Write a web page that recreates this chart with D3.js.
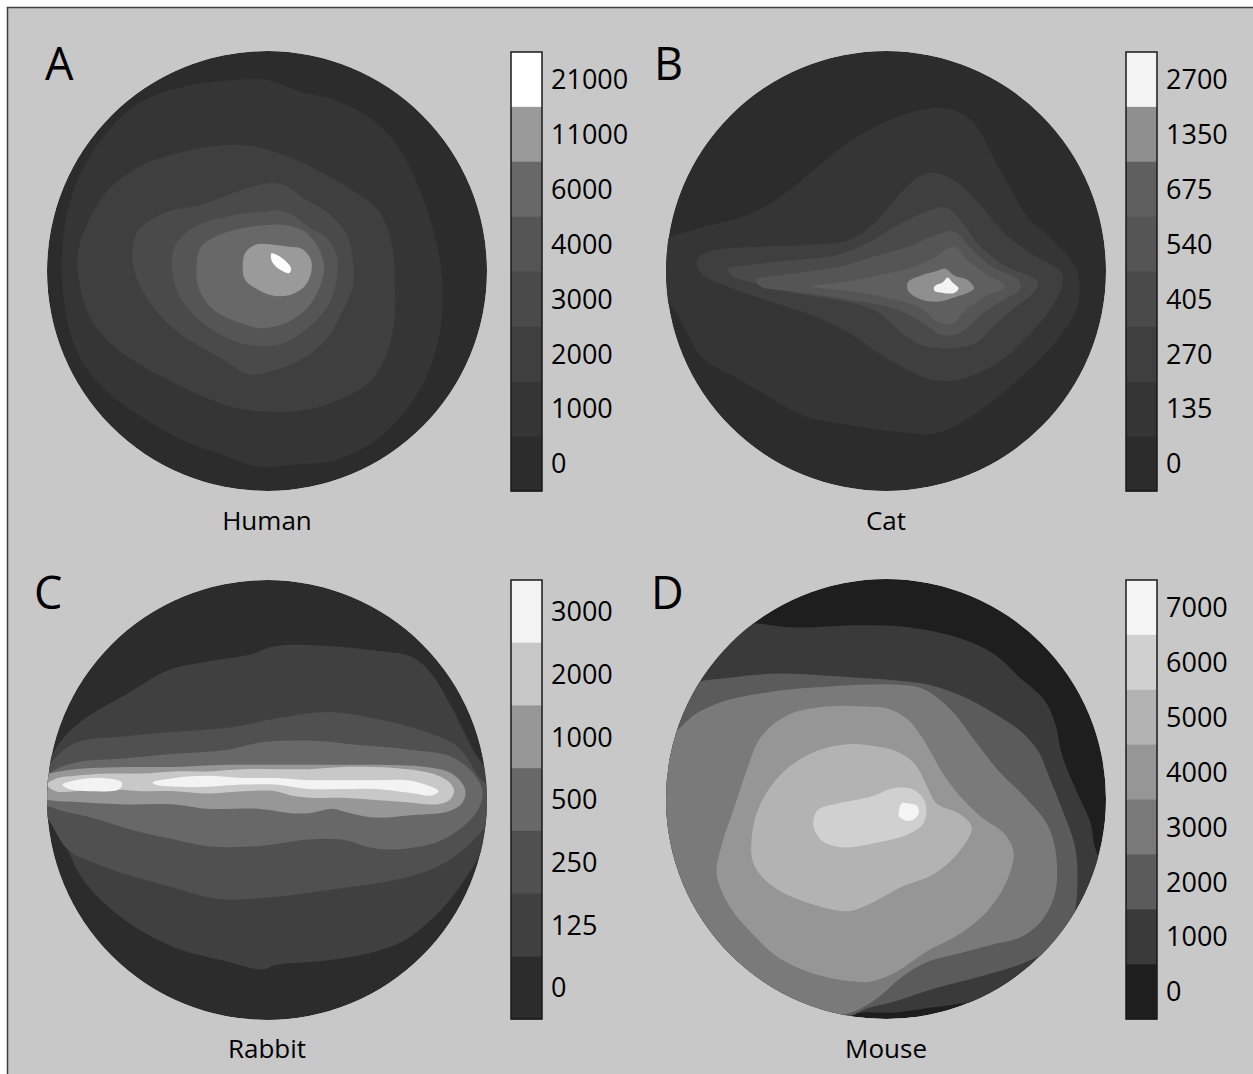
<!DOCTYPE html>
<html>
<head>
<meta charset="utf-8">
<script src="https://cdn.jsdelivr.net/npm/d3@7"></script>
<style>
  html, body { margin: 0; padding: 0; background: #ffffff; }
  svg { display: block; }
  text { font-family: "Open Sans", "Noto Sans", sans-serif; fill: #000; }
</style>
</head>
<body>
<svg id="fig" width="1253" height="1074"></svg>
<script>
// ---------------------------------------------------------------
// Colour-scale tick labels (cell density, cells/mm^2), low to high
// ---------------------------------------------------------------
const humanTicks  = [0, 1000, 2000, 3000, 4000, 6000, 11000, 21000];
const catTicks    = [0, 135, 270, 405, 540, 675, 1350, 2700];
const rabbitTicks = [0, 125, 250, 500, 1000, 2000, 3000];
const mouseTicks  = [0, 1000, 2000, 3000, 4000, 5000, 6000, 7000];

// ---------------------------------------------------------------
// Iso-density contours on the flattened retina.
// Coordinates are % of retinal radius (x right, y down, centre 0,0).
// Entry i is the outline of the region above tick i+1; a level may
// consist of several separate islands.
// ---------------------------------------------------------------
const humanContours = [
  [[[-11,-87],[-37,-84],[-57,-77],[-72,-64],[-83,-48],[-90,-30],[-93,-11],[-93,7],[-90,26],[-83,43],[-69,58],[-51,70],[-36,78],[-19,84],[-4,89],[13,88],[31,86],[48,78],[61,66],[72,49],[78,31],[80,11],[78,-8],[73,-27],[66,-45],[57,-60],[43,-72],[30,-78],[17,-81],[-1,-87]]],
  [[[-22,-57],[-39,-54],[-57,-48],[-72,-37],[-81,-23],[-86,-8],[-85,7],[-80,22],[-70,34],[-57,43],[-42,51],[-27,58],[-11,63],[4,64],[19,63],[34,58],[46,51],[54,39],[58,22],[58,4],[57,-11],[51,-27],[40,-36],[30,-42],[19,-48],[7,-53],[-8,-57]]],
  [[[1,-40],[-14,-36],[-30,-30],[-45,-27],[-58,-19],[-61,-11],[-60,1],[-54,13],[-46,23],[-36,31],[-22,39],[-8,47],[4,45],[16,40],[27,31],[34,19],[39,7],[39,-5],[36,-17],[27,-27],[17,-33],[8,-39]]],
  [[[-2,-27],[-17,-25],[-33,-20],[-42,-11],[-43,1],[-39,13],[-30,23],[-17,31],[-5,34],[7,33],[17,27],[27,17],[31,7],[32,-5],[28,-14],[19,-20],[8,-27]]],
  [[[-8,-20],[-20,-17],[-30,-11],[-32,-2],[-31,8],[-25,17],[-14,23],[-2,26],[10,23],[19,16],[24,7],[26,-2],[23,-11],[17,-18],[7,-21]]],
  [[[-5,-12],[-10,-8],[-11,-2],[-10,4],[-5,8],[2,11],[10,11],[17,7],[20,1],[20,-5],[16,-10],[10,-11],[2,-12]]],
  [[[2,-8],[5,-7],[9,-4],[11,-1],[10,1],[7,0],[4,-2],[2,-5]]]
];

const catContours = [
  [[[-104,-11],[-101,-14],[-83,-20],[-64,-25],[-49,-33],[-34,-45],[-19,-57],[-4,-66],[11,-72],[27,-74],[37,-70],[43,-63],[49,-51],[57,-37],[64,-25],[77,-13],[86,-2],[88,7],[86,19],[78,31],[67,43],[57,52],[46,61],[34,69],[22,74],[4,73],[-17,70],[-37,66],[-52,58],[-67,49],[-83,40],[-90,29],[-96,18],[-101,13],[-104,8]]],
  [[[-86,-5],[-80,-9],[-57,-11],[-34,-12],[-17,-14],[-5,-22],[7,-36],[17,-44],[25,-44],[34,-39],[43,-30],[54,-17],[66,-8],[80,1],[80,7],[75,17],[66,28],[57,37],[43,46],[30,50],[19,49],[10,45],[-4,37],[-17,28],[-34,20],[-52,14],[-72,7],[-83,2]]],
  [[[-72,-1],[-60,-3],[-42,-5],[-23,-7],[-8,-13],[4,-20],[16,-26],[27,-29],[34,-23],[43,-11],[55,-2],[69,5],[67,10],[58,17],[49,25],[42,32],[31,35],[17,34],[7,28],[-5,18],[-23,13],[-42,10],[-58,6],[-70,2]]],
  [[[-59,4],[-49,2],[-34,0],[-17,-3],[-4,-7],[10,-11],[22,-16],[31,-18],[39,-10],[48,-2],[60,4],[61,8],[52,14],[43,20],[34,28],[25,29],[16,23],[4,17],[-11,14],[-30,11],[-45,9],[-57,7]]],
  [[[-34,7],[-19,5],[-4,2],[10,-1],[20,-5],[31,-11],[37,-5],[45,1],[54,7],[46,11],[37,17],[30,24],[23,23],[16,17],[4,13],[-11,10],[-27,8]]],
  [[[10,5],[16,2],[23,0],[27,-1],[31,2],[37,4],[40,8],[37,10],[31,12],[23,14],[16,13],[10,9]]],
  [[[22,7],[26,5],[28,3],[30,5],[33,8],[31,10],[26,10],[22,9]]]
];

const rabbitContours = [
  [[[-105,-2],[-98,-20],[-90,-31],[-80,-39],[-64,-48],[-45,-59],[-27,-63],[-8,-66],[4,-70],[27,-70],[49,-68],[66,-65],[75,-57],[84,-42],[93,-24],[105,-2],[98,22],[90,36],[80,49],[64,63],[49,69],[27,73],[4,75],[-2,77],[-20,73],[-42,67],[-64,55],[-83,37],[-93,18]]],
  [[[-105,-2],[-98,-17],[-87,-26],[-64,-29],[-42,-31],[-17,-33],[4,-37],[27,-40],[49,-37],[72,-31],[87,-24],[96,-11],[105,1],[95,17],[80,29],[64,35],[49,38],[27,41],[4,44],[-22,45],[-42,40],[-60,35],[-75,30],[-90,23],[-98,11]]],
  [[[-104,-5],[-99,-12],[-87,-17],[-64,-19],[-42,-21],[-17,-23],[-4,-26],[19,-27],[42,-25],[64,-23],[83,-20],[93,-13],[98,-4],[95,6],[80,18],[64,22],[49,22],[34,18],[19,18],[-4,21],[-27,21],[-42,18],[-60,14],[-80,8],[-93,5],[-99,3],[-104,1]]],
  [[[-104,-10],[-99,-12],[-87,-14],[-64,-15],[-42,-15],[-19,-16],[4,-16],[27,-16],[49,-16],[72,-15],[84,-12],[90,-5],[89,1],[83,5],[64,7],[49,8],[34,5],[30,4],[19,6],[11,6],[-4,4],[-27,4],[-42,2],[-64,2],[-84,1],[-99,0],[-104,-2]]],
  [[[-100,-7],[-95,-10],[-87,-11],[-72,-12],[-57,-12],[-42,-13],[-27,-13],[-11,-14],[4,-14],[19,-14],[34,-15],[49,-15],[64,-14],[75,-12],[83,-8],[85,-4],[83,0],[77,2],[64,1],[49,0],[34,-1],[19,-1],[11,-2],[4,-4],[-11,-4],[-27,-3],[-42,-4],[-57,-4],[-72,-5],[-87,-4],[-96,-4]]],
  [
    [[-93,-7],[-87,-9],[-75,-10],[-66,-8],[-67,-5],[-80,-4],[-90,-5]],
    [[-52,-8],[-42,-10],[-27,-11],[-11,-10],[4,-10],[19,-9],[34,-9],[49,-9],[64,-9],[72,-7],[78,-4],[75,-2],[67,-3],[49,-5],[34,-5],[19,-5],[11,-6],[4,-7],[-11,-7],[-27,-6],[-42,-6],[-51,-7]]
  ]
];

const mouseContours = [
  [[[-72,-80],[-42,-78],[-11,-79],[11,-78],[34,-73],[49,-66],[61,-55],[72,-45],[77,-34],[80,-20],[86,-5],[93,11],[95,22],[99,31],[110,49],[64,87],[34,93],[19,95],[4,97],[-11,97],[-27,98],[-102,49],[-111,-27],[-87,-72]]],
  [[[-98,-36],[-87,-52],[-72,-55],[-49,-57],[-27,-56],[-11,-55],[4,-54],[19,-52],[34,-47],[49,-39],[61,-31],[69,-22],[75,-8],[81,7],[86,22],[87,39],[85,54],[78,66],[64,74],[49,79],[34,83],[19,87],[4,92],[-8,95],[-20,99],[-102,64],[-110,-11]]],
  [[[-102,-23],[-93,-33],[-86,-39],[-72,-45],[-57,-48],[-42,-50],[-27,-51],[-11,-52],[4,-52],[17,-50],[30,-40],[40,-27],[51,-13],[63,-1],[73,11],[77,23],[77,42],[71,55],[61,63],[49,66],[34,70],[19,74],[7,81],[-2,89],[-11,95],[-20,98],[-57,95],[-110,34]]],
  [[[-10,-42],[-27,-42],[-45,-38],[-57,-28],[-63,-14],[-69,4],[-75,22],[-77,34],[-71,49],[-61,61],[-49,72],[-31,80],[-14,83],[-7,83],[4,79],[19,69],[34,61],[46,51],[55,37],[58,24],[54,16],[43,8],[33,-2],[25,-13],[17,-27],[10,-36],[1,-41]]],
  [[[-16,-25],[-31,-22],[-46,-13],[-57,2],[-61,17],[-60,30],[-51,40],[-36,47],[-17,51],[-8,48],[7,40],[22,34],[34,23],[39,13],[34,7],[23,2],[19,-5],[13,-16],[4,-22],[-5,-24]]],
  [[[-31,5],[-22,2],[-7,-1],[4,-5],[13,-4],[18,2],[17,11],[10,16],[-5,20],[-20,22],[-29,19],[-33,12]]],
  [[[10,2],[14,3],[15,6],[13,9],[10,10],[6,8],[6,5],[7,2]]]
];

// ---------------------------------------------------------------
// Styling and layout
// ---------------------------------------------------------------
const humanGrays  = ["#2c2c2c", "#353535", "#3f3f3f", "#4a4a4a", "#555555", "#686868", "#9a9a9a", "#ffffff"];
const catGrays    = ["#2c2c2c", "#353535", "#3f3f3f", "#4a4a4a", "#555555", "#5f5f5f", "#8f8f8f", "#f3f3f3"];
const rabbitGrays = ["#2c2c2c", "#404040", "#505050", "#686868", "#979797", "#c8c8c8", "#f3f3f3"];
const mouseGrays  = ["#1e1e1e", "#3a3a3a", "#5b5b5b", "#7a7a7a", "#969696", "#b3b3b3", "#d0d0d0", "#f5f5f5"];

const R = 220;  // retina disc radius, px

const panels = [
  { letter: "A", name: "Human",  ticks: humanTicks,  contours: humanContours,  grays: humanGrays,
    cx: 267, cy: 271, letterX: 45,  letterY: 80,  barX: 511, barY0: 52,  barY1: 491, captionY: 530 },
  { letter: "B", name: "Cat",    ticks: catTicks,    contours: catContours,    grays: catGrays,
    cx: 886, cy: 271, letterX: 654, letterY: 80,  barX: 1126, barY0: 52, barY1: 491, captionY: 530 },
  { letter: "C", name: "Rabbit", ticks: rabbitTicks, contours: rabbitContours, grays: rabbitGrays,
    cx: 267, cy: 800, letterX: 34,  letterY: 609, barX: 511, barY0: 580, barY1: 1019, captionY: 1058 },
  { letter: "D", name: "Mouse",  ticks: mouseTicks,  contours: mouseContours,  grays: mouseGrays,
    cx: 886, cy: 799, letterX: 651, letterY: 609, barX: 1126, barY0: 580, barY1: 1019, captionY: 1058 }
];

const svg = d3.select("#fig");

// figure frame
svg.append("rect")
  .attr("x", 7.5).attr("y", 7.5)
  .attr("width", 1260).attr("height", 1080)
  .attr("fill", "#c8c8c8")
  .attr("stroke", "#404040")
  .attr("stroke-width", 1.5);

const defs = svg.append("defs");

panels.forEach((p, pi) => {
  const g = svg.append("g");

  const x = d3.scaleLinear().domain([-100, 100]).range([p.cx - R, p.cx + R]);
  const y = d3.scaleLinear().domain([-100, 100]).range([p.cy - R, p.cy + R]);
  const fill = d3.scaleOrdinal().domain(p.ticks).range(p.grays);

  // retina outline used as clip region
  const clipId = "retina-" + pi;
  defs.append("clipPath").attr("id", clipId)
    .append("circle").attr("cx", x(0)).attr("cy", y(0)).attr("r", R);

  const map = g.append("g").attr("clip-path", `url(#${clipId})`);

  // lowest density band fills the whole disc
  map.append("circle")
    .attr("cx", x(0)).attr("cy", y(0)).attr("r", R)
    .attr("fill", fill(p.ticks[0]));

  const outline = d3.line()
    .x(d => x(d[0]))
    .y(d => y(d[1]))
    .curve(d3.curveCatmullRomClosed.alpha(0.5));

  // filled iso-density regions, stacked from low to high density
  p.contours.forEach((rings, i) => {
    const level = p.ticks[i + 1];
    map.selectAll(null)
      .data(rings)
      .join("path")
      .attr("d", outline)
      .attr("fill", fill(level));
  });

  // colour bar
  const band = d3.scaleBand()
    .domain(p.ticks.slice().reverse())
    .range([p.barY0, p.barY1]);

  const bar = g.append("g");
  bar.selectAll("rect")
    .data(band.domain())
    .join("rect")
    .attr("x", p.barX)
    .attr("y", d => band(d))
    .attr("width", 31)
    .attr("height", band.bandwidth() + 0.5)
    .attr("fill", d => fill(d));
  bar.append("rect")
    .attr("x", p.barX).attr("y", p.barY0)
    .attr("width", 31).attr("height", p.barY1 - p.barY0)
    .attr("fill", "none")
    .attr("stroke", "#1a1a1a")
    .attr("stroke-width", 1.5);

  bar.selectAll("text")
    .data(band.domain())
    .join("text")
    .attr("x", p.barX + 40)
    .attr("y", d => band(d) + band.bandwidth() / 2)
    .attr("dy", "0.36em")
    .attr("font-size", 27)
    .text(d => d);

  // panel letter
  g.append("text")
    .attr("x", p.letterX).attr("y", p.letterY)
    .attr("font-size", 45)
    .text(p.letter);

  // species caption
  g.append("text")
    .attr("x", p.cx).attr("y", p.captionY)
    .attr("text-anchor", "middle")
    .attr("font-size", 26)
    .text(p.name);
});
</script>
</body>
</html>
